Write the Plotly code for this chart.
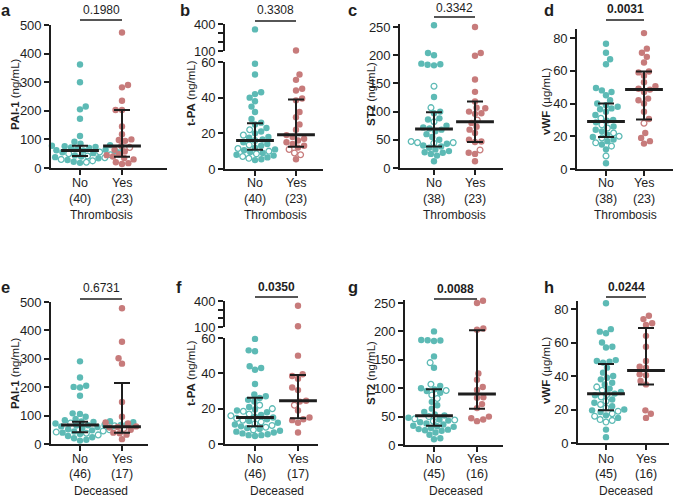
import math
import numpy as np
import plotly.graph_objects as go

# ---------------- data ----------------
CATEGORIES = ["No", "Yes"]
PANEL_LETTERS = ["a", "b", "c", "d", "e", "f", "g", "h"]
MARKER_NAMES = ["PAI-1", "t-PA", "ST2", "vWF", "PAI-1", "t-PA", "ST2", "vWF"]
UNITS = ["(ng/mL)", "(ng/mL)", "(ng/mL)", "(µg/mL)", "(ng/mL)", "(ng/mL)", "(ng/mL)", "(µg/mL)"]
GROUP_TITLES = ["Thrombosis"] * 4 + ["Deceased"] * 4
N_NO = [40, 40, 38, 38, 46, 46, 45, 45]
N_YES = [23, 23, 23, 23, 17, 17, 16, 16]
P_VALUES = ["0.1980", "0.3308", "0.3342", "0.0031", "0.6731", "0.0350", "0.0088", "0.0244"]
P_SIGNIF = [False, False, False, True, False, True, True, True]

# a: PAI-1 by thrombosis
a_no_filled = [362, 300, 215, 205, 172, 112, 92, 85, 80, 78, 76, 74, 72, 70, 68, 66, 64, 62, 61, 60,
               59, 58, 55, 52, 48, 44, 40, 38, 34, 28, 22, 18]
a_no_open = [56, 50, 46, 42, 36, 30, 25, 20]
a_yes_filled = [474, 290, 282, 235, 203, 203, 145, 118, 100, 98, 95, 77, 64, 58, 48, 45, 40, 35, 30, 20, 17, 14]
a_yes_open = [72]
# b: t-PA by thrombosis
b_no_filled = [340, 59, 53, 43, 42, 40, 38, 35, 32, 28, 26, 25, 23, 21, 20, 18, 17.5, 16.5, 15, 14, 13, 12,
               11, 10.5, 9.5, 9, 8, 7.5, 6.5, 5.5, 5]
b_no_open = [22, 19, 16, 13.5, 11.5, 10, 8.5, 7, 6]
b_yes_filled = [105, 53, 50, 45, 44, 39.5, 38.5, 32, 29, 25, 22, 19, 18, 17, 16, 15, 14, 13, 12, 5.5]
b_yes_open = [11, 9, 8]
# c: ST2 by thrombosis
c_no_filled = [253, 204, 200, 185, 184, 183, 182, 126, 100, 97, 88, 86, 75, 72, 70, 68, 65, 60, 55, 50,
               43, 40, 38, 36, 33, 30, 28, 27, 25, 22, 12]
c_no_open = [145, 107, 82, 47, 45, 45, 44]
c_yes_filled = [250, 204, 199, 157, 135, 118, 107, 106, 100, 97, 96, 80, 73, 68, 62, 50, 47, 46, 27, 25, 12]
c_yes_open = [85, 32]
# d: vWF by thrombosis
d_no_filled = [76.5, 71, 67, 64, 49.5, 48, 47, 45, 42, 40, 39, 38, 37, 36.5, 35, 33, 30, 29.5, 28.5,
               26, 24, 23, 21, 19.5, 18, 17, 15, 12, 3.5]
d_no_open = [31, 27, 25, 22, 20, 19, 16, 14, 8]
d_yes_filled = [83, 73.5, 71, 68.5, 65, 59.5, 59, 57, 53, 50.5, 49, 48.5, 47, 43, 42, 40, 35, 30.5,
                22, 19, 17, 15.5]
d_yes_open = [28]
# e: PAI-1 by outcome
e_no_filled = [291, 234, 205, 201, 199, 170, 108, 106, 96, 88, 84, 80, 79, 78, 77, 76, 75, 72, 70, 69,
               68, 67, 66, 65, 62, 60, 56, 52, 48, 44, 40, 35, 28, 24, 20, 15, 12]
e_no_open = [74, 64, 58, 54, 50, 46, 42, 38, 32]
e_yes_filled = [478, 360, 302, 283, 148, 96, 76, 72, 62, 60, 58, 50, 40, 38, 33, 17]
e_yes_open = [55]
# f: t-PA by outcome
f_no_filled = [59.5, 53, 52.5, 44, 43, 42, 34, 28, 27, 26, 25, 24, 21, 19.5, 19, 18, 16.5, 15.5, 15,
               14, 13, 12, 11, 10, 9, 8.5, 7.5, 7, 6.5, 6, 5.5, 5, 5, 4.5]
f_no_open = [22, 20, 18.5, 17, 16, 14.5, 13.5, 12.5, 11.5, 10.5, 9.5, 8]
f_yes_filled = [345, 108, 50, 39.5, 38.5, 37, 32, 30.5, 24.5, 24, 19, 15, 14, 13.5, 12, 6.5]
f_yes_open = [22]
# g: ST2 by outcome
g_no_filled = [200, 185, 184.5, 184, 183, 156, 136, 104, 100, 98, 95, 92, 76, 70, 64, 58, 54, 52, 48,
               45, 43, 40, 38, 36, 34, 33, 32, 30, 28, 27, 26, 25, 22, 18, 12, 10]
g_no_open = [145, 107, 96, 88, 82, 50, 46, 44, 42]
g_yes_filled = [254, 250, 205, 203, 126, 115, 102, 97, 84, 83, 72, 65, 50, 47, 45, 42]
g_yes_open = []
# h: vWF by outcome
h_no_filled = [83.5, 68, 66.5, 65.5, 60, 57.5, 57, 49.5, 49, 48.5, 48, 45, 42, 40, 39, 38, 36, 35,
               32.5, 30.5, 29.5, 28.5, 26, 24, 22, 20, 19.5, 18.5, 16.5, 15, 8, 3.5]
h_no_open = [33.5, 31.5, 29, 27.5, 25, 23, 21, 19, 17.5, 16, 14, 13.5, 12.5]
h_yes_filled = [76, 74, 71.5, 70.5, 64, 57.5, 49, 45.5, 45, 41, 40.5, 37, 35, 19.5, 17.5, 15]
h_yes_open = []

# median and interquartile range, as drawn
MEDIAN_NO = [61, 16, 69, 29, 67, 15, 51.5, 29.4]
Q1_NO = [42, 10.8, 38, 19.5, 41, 10, 34, 19.5]
Q3_NO = [78, 25.7, 99, 40, 78.5, 26.2, 98, 47.2]
MEDIAN_YES = [77, 19.2, 82, 48.5, 61, 24.5, 90, 43.3]
Q1_YES = [39, 12.5, 46, 30.3, 40, 14.6, 64, 35]
Q3_YES = [203, 39, 118, 59.5, 215, 39, 202, 68.7]

Y_TICKS = [[0, 100, 200, 300, 400, 500], [0, 20, 40, 60], [0, 50, 100, 150, 200, 250], [0, 20, 40, 60, 80],
           [0, 100, 200, 300, 400, 500], [0, 20, 40, 60], [0, 50, 100, 150, 200, 250], [0, 20, 40, 60, 80]]
UPPER_TICKS = [100, 200, 300, 400]
UPPER_TICKTEXT = ["100", "", "", "400"]

DATA = [
    (a_no_filled, a_no_open, a_yes_filled, a_yes_open),
    (b_no_filled, b_no_open, b_yes_filled, b_yes_open),
    (c_no_filled, c_no_open, c_yes_filled, c_yes_open),
    (d_no_filled, d_no_open, d_yes_filled, d_yes_open),
    (e_no_filled, e_no_open, e_yes_filled, e_yes_open),
    (f_no_filled, f_no_open, f_yes_filled, f_yes_open),
    (g_no_filled, g_no_open, g_yes_filled, g_yes_open),
    (h_no_filled, h_no_open, h_yes_filled, h_yes_open),
]

# ---------------- layout geometry (pixels) ----------------
W, H = 676, 497
TEAL = "#5dbab5"
ROSE = "#c77b7b"
INK = "#1e1e1e"
FONT = "Arial, Liberation Sans, Helvetica, sans-serif"

X_AXIS_PX = [(51, 167), (225, 323), (400, 503), (577, 673), (51, 148), (225, 318), (405, 503), (578, 669)]
CAT_PX = [(80, 122), (255, 296), (434, 475), (606, 644), (80, 122), (255, 298), (434, 477), (606, 646)]
Y_AXIS_PX = [(25, 168), (62, 169), (24, 168), (29, 169), (302, 444), (338, 444), (300, 445), (301, 443)]
Y_RANGE = [(0, 500), (0, 60), (0, 255.3), (0, 85.5), (0, 500), (0, 60), (0, 255.3), (0, 84.8)]
UPPER = {1: ((24, 51), (100, 400), 9), 5: ((301, 327), (100, 400), 10)}
LETTER_POS = [(0, 0), (179, 0), (347, 0), (543, 0), (0, 277), (175, 277), (347, 277), (543, 277)]
P_TEXT_Y = [10, 10, 8.5, 9.5, 288, 286.5, 288.5, 286.5]
P_LINE_Y = [20, 21, 17, 20, 299, 297, 299, 297]
YTITLE_POS = [(15, 94), (191, 93), (371, 94), (546, 102), (15, 373), (191, 373), (371, 373), (546, 371)]
CAT_Y = [(183, 199)] * 4 + [(459, 474)] * 4
GROUP_Y = [215, 215, 215, 215, 491, 491, 491, 491]

DOT = 6.4


def fx(px):
    return px / W


def fy(px):
    return 1 - px / H


def suffix(n):
    return "" if n == 1 else str(n)


def swarm(ypx, d):
    order = sorted(range(len(ypx)), key=lambda k: -ypx[k])
    placed = []
    xs = [0.0] * len(ypx)
    for cnt, i in enumerate(order):
        y = ypx[i]
        forb = []
        for xj, yj in placed:
            dy = abs(y - yj)
            if dy < d:
                w = math.sqrt(d * d - dy * dy)
                forb.append((xj - w, xj + w))
        cands = [0.0] + [a for a, b in forb] + [b for a, b in forb]
        sgn = 1 if cnt % 2 == 0 else -1
        cands.sort(key=lambda c: (round(abs(c), 4), sgn * c))
        for c in cands:
            if all(not (a + 1e-6 < c < b - 1e-6) for a, b in forb):
                xs[i] = c
                break
        placed.append((xs[i], y))
    return xs


AXIS_STYLE = dict(showline=True, linecolor=INK, linewidth=1.6, ticks="outside", ticklen=5, tickwidth=1.6,
                  tickcolor=INK, showgrid=False, zeroline=False, fixedrange=True, automargin=False,
                  tickfont=dict(family=FONT, size=13, color=INK))

fig = go.Figure()
layout = {}
annotations = []
shapes = []


def txt(text, x, y, size=12, xref="paper", angle=0, xanchor="center", yanchor="middle"):
    annotations.append(dict(text=text, x=x, y=y, xref=xref, yref="paper", xanchor=xanchor,
                            yanchor=yanchor, showarrow=False, textangle=angle, borderpad=0,
                            font=dict(family=FONT, size=size, color=INK)))


for i in range(8):
    n = i + 1
    sx = suffix(n)
    xl, xr = X_AXIS_PX[i]
    c0, c1 = CAT_PX[i]
    unit = c1 - c0
    yt, yb = Y_AXIS_PX[i]
    r0, r1 = Y_RANGE[i]

    def to_px(v, i=i, yt=yt, yb=yb, r0=r0, r1=r1):
        if i in UPPER and v > 80:
            (ut, ub), (u0, u1), _ = UPPER[i]
            return ub - (v - u0) / (u1 - u0) * (ub - ut)
        return yb - (v - r0) / (r1 - r0) * (yb - yt)

    layout["xaxis" + sx] = dict(
        domain=[fx(xl), fx(xr)], range=[(xl - c0) / unit, (xr - c0) / unit], anchor="y" + sx,
        tickmode="array", tickvals=[0, 1], showticklabels=False, **AXIS_STYLE)
    layout["yaxis" + sx] = dict(
        domain=[fy(yb), fy(yt)], range=[r0, r1], anchor="x" + sx,
        tickmode="array", tickvals=Y_TICKS[i], **AXIS_STYLE)
    if i in UPPER:
        (ut, ub), (u0, u1), un = UPPER[i]
        layout[f"yaxis{un}"] = dict(
            domain=[fy(ub), fy(ut)], range=[u0, u1], anchor="x" + sx,
            tickmode="array", tickvals=UPPER_TICKS, ticktext=UPPER_TICKTEXT, **AXIS_STYLE)

    groups = [(DATA[i][0], DATA[i][1], 0, TEAL), (DATA[i][2], DATA[i][3], 1, ROSE)]
    for filled, opened, cx, col in groups:
        vals = list(filled) + list(opened)
        flags = [False] * len(filled) + [True] * len(opened)
        ypx = [to_px(v) for v in vals]
        offs = swarm(ypx, DOT)
        for is_open in (False, True):
            for upper in (False, True):
                xs, ys = [], []
                for v, f, o in zip(vals, flags, offs):
                    if f != is_open:
                        continue
                    is_up = (i in UPPER and v > 80)
                    if is_up != upper:
                        continue
                    xs.append(cx + o / unit)
                    ys.append(v)
                if not xs:
                    continue
                yaxis = f"y{UPPER[i][2]}" if upper else "y" + sx
                if is_open:
                    mk = dict(symbol="circle-open", size=DOT - 0.6, color=col, line=dict(width=1.3, color=col))
                else:
                    mk = dict(symbol="circle", size=DOT, color=col, line=dict(width=0))
                fig.add_trace(go.Scatter(x=xs, y=ys, mode="markers", marker=mk, xaxis="x" + sx,
                                         yaxis=yaxis, cliponaxis=False, hoverinfo="skip"))

    # median with interquartile range
    for cx, med, q1, q3 in ((0, MEDIAN_NO[i], Q1_NO[i], Q3_NO[i]), (1, MEDIAN_YES[i], Q1_YES[i], Q3_YES[i])):
        fig.add_trace(go.Scatter(
            x=[cx], y=[med], mode="markers", xaxis="x" + sx, yaxis="y" + sx, cliponaxis=False,
            marker=dict(symbol="line-ew", size=27, color=INK, line=dict(width=3, color=INK)),
            error_y=dict(type="data", symmetric=False, array=[q3 - med], arrayminus=[med - q1],
                         width=8, thickness=2, color=INK),
            hoverinfo="skip"))

    # panel letter
    lx, ly = LETTER_POS[i]
    txt(f"<b>{PANEL_LETTERS[i]}</b>", fx(lx), fy(ly), size=16.5, xanchor="left", yanchor="top")
    # p-value with bracket line
    ptxt = f"<b>{P_VALUES[i]}</b>" if P_SIGNIF[i] else P_VALUES[i]
    txt(ptxt, 0.5, fy(P_TEXT_Y[i]), size=12, xref="x" + sx)
    shapes.append(dict(type="line", xref="x" + sx, yref="paper", x0=0, x1=1,
                       y0=fy(P_LINE_Y[i]), y1=fy(P_LINE_Y[i]), line=dict(color=INK, width=1.5)))
    # y title
    tx, ty = YTITLE_POS[i]
    txt(f"<b>{MARKER_NAMES[i]}</b> {UNITS[i]}", fx(tx), fy(ty), size=11.5, angle=-90)
    # category labels
    for cx, cat, cnt in ((0, CATEGORIES[0], N_NO[i]), (1, CATEGORIES[1], N_YES[i])):
        txt(cat, cx, fy(CAT_Y[i][0]), size=12.5, xref="x" + sx)
        txt(f"({cnt})", cx, fy(CAT_Y[i][1]), size=12.5, xref="x" + sx)
    # group title
    txt(GROUP_TITLES[i], 0.5, fy(GROUP_Y[i]), size=12, xref="x" + sx)

fig.update_layout(
    width=W, height=H, margin=dict(l=0, r=0, t=0, b=0, pad=0), autosize=False,
    paper_bgcolor="white", plot_bgcolor="white", showlegend=False,
    annotations=annotations, shapes=shapes, **layout,
)

fig.write_html("out.html", config={"displayModeBar": False},
               post_script="document.body.style.margin='0';document.body.style.padding='0';")
